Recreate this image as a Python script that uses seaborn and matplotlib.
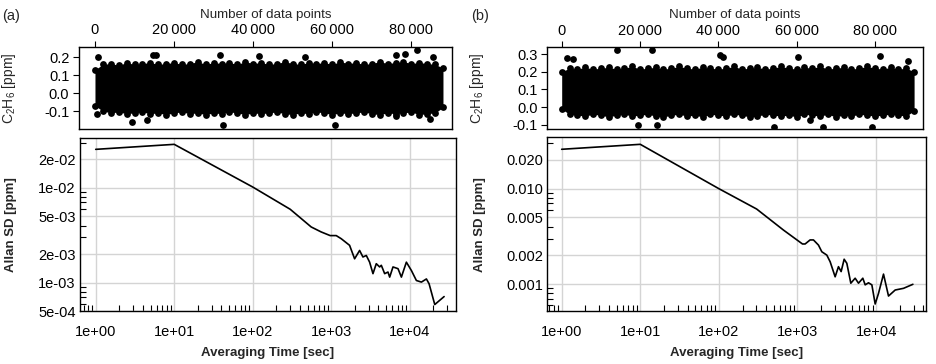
import numpy as np
import pandas as pd
import matplotlib
matplotlib.use('Agg')
import matplotlib.pyplot as plt
import matplotlib.ticker as mticker
import seaborn as sns

# ---- time series (top panels): dense band edges, plus stray points
env_x_a = list(range(0, 90000, 2000))
upper_a = [0.13, 0.16, 0.165, 0.155, 0.17, 0.16, 0.165, 0.17, 0.16, 0.165, 0.17, 0.16,
           0.165, 0.175, 0.16, 0.17, 0.165, 0.17, 0.16, 0.175, 0.165, 0.17, 0.16, 0.165,
           0.175, 0.165, 0.16, 0.17, 0.165, 0.17, 0.16, 0.175, 0.165, 0.17, 0.16, 0.165,
           0.175, 0.165, 0.17, 0.175, 0.165, 0.17, 0.165, 0.16, 0.14]
lower_a = [-0.07, -0.1, -0.11, -0.105, -0.115, -0.11, -0.105, -0.115, -0.11, -0.12, -0.11,
           -0.105, -0.115, -0.11, -0.12, -0.11, -0.115, -0.105, -0.11, -0.12, -0.11, -0.115,
           -0.11, -0.105, -0.115, -0.12, -0.11, -0.115, -0.105, -0.11, -0.12, -0.11, -0.115,
           -0.11, -0.105, -0.115, -0.12, -0.11, -0.115, -0.11, -0.105, -0.12, -0.115, -0.11, -0.08]
out_x_a = [840, 14570, 15400, 31580, 41430, 53000, 76200, 78300, 81500, 85500,
           420, 9260, 13050, 32400, 60630, 76200, 84630]
out_y_a = [0.2, 0.21, 0.215, 0.215, 0.205, 0.2, 0.21, 0.22, 0.24, 0.2,
           -0.116, -0.163, -0.148, -0.18, -0.18, -0.126, -0.145]

env_x_b = list(range(0, 92000, 2000))
upper_b = [0.2, 0.22, 0.215, 0.225, 0.215, 0.22, 0.225, 0.215, 0.22, 0.23, 0.215, 0.22,
           0.225, 0.215, 0.22, 0.23, 0.22, 0.215, 0.225, 0.22, 0.215, 0.22, 0.23, 0.215,
           0.22, 0.225, 0.215, 0.22, 0.23, 0.22, 0.215, 0.225, 0.22, 0.23, 0.215, 0.22,
           0.225, 0.215, 0.22, 0.23, 0.22, 0.215, 0.225, 0.215, 0.22, 0.2]
lower_b = [-0.01, -0.04, -0.045, -0.05, -0.04, -0.045, -0.055, -0.045, -0.04, -0.05, -0.045,
           -0.04, -0.05, -0.055, -0.045, -0.04, -0.05, -0.045, -0.055, -0.04, -0.045, -0.05,
           -0.04, -0.045, -0.055, -0.05, -0.04, -0.045, -0.05, -0.045, -0.055, -0.04, -0.045,
           -0.05, -0.04, -0.055, -0.045, -0.05, -0.04, -0.045, -0.05, -0.045, -0.04, -0.045,
           -0.05, -0.02]
out_x_b = [1280, 2980, 14040, 22980, 40430, 41280, 60430, 81280, 88510,
           19570, 24260, 54210, 63400, 66810, 79150]
out_y_b = [0.276, 0.27, 0.32, 0.32, 0.295, 0.285, 0.286, 0.29, 0.26,
           -0.1, -0.1, -0.11, -0.075, -0.11, -0.11]

# ---- Allan deviation (bottom panels)
tau_a = [1, 10, 100, 300, 556, 745, 970, 1158, 1342, 1714, 1986, 2300, 2535, 2799, 3085,
         3404, 3750, 4140, 4347, 4796, 5285, 5556, 6124, 7096, 7834, 9066, 10500, 12160,
         14090, 16320, 17650, 20850, 27420]
adev_a = [0.0255, 0.0288, 0.0102, 0.00594, 0.00386, 0.00342, 0.00313, 0.00313, 0.0029,
          0.00247, 0.00178, 0.00218, 0.00186, 0.00193, 0.00164, 0.00124, 0.00158, 0.00146,
          0.00152, 0.00124, 0.00129, 0.00114, 0.00146, 0.0014, 0.00114, 0.00164, 0.00134,
          0.00105, 0.00101, 0.00109, 0.00097, 0.000585, 0.00071]
tau_b = [1, 10, 100, 302, 663, 1157, 1250, 1446, 1596, 1848, 2038, 2360, 2603, 3012, 3320,
         3590, 3922, 4240, 4767, 5413, 5970, 6776, 7260, 8000, 8830, 9730, 10730, 12420,
         14380, 17490, 22330, 29360]
adev_b = [0.0259, 0.0292, 0.0100, 0.00612, 0.00368, 0.00263, 0.00263, 0.0029, 0.0029,
          0.00256, 0.00218, 0.00201, 0.00171, 0.00119, 0.00152, 0.00135, 0.00182, 0.00165,
          0.00102, 0.00115, 0.00102, 0.00115, 0.00098, 0.00103, 0.00098, 0.000617, 0.000798,
          0.00127, 0.000748, 0.000865, 0.000901, 0.000993]

yticks_top_a = [-0.1, 0.0, 0.1, 0.2]
yticks_top_b = [-0.1, 0.0, 0.1, 0.2, 0.3]
yticks_bot_a = [5e-4, 1e-3, 2e-3, 5e-3, 1e-2, 2e-2]
yticks_bot_b = [1e-3, 2e-3, 5e-3, 1e-2, 2e-2]
xticks_top = [0, 20000, 40000, 60000, 80000]
xticks_bot = [1, 10, 100, 1000, 10000]

sns.set_style('ticks')
plt.rcParams['font.family'] = ['Liberation Sans', 'DejaVu Sans']
plt.rcParams['axes.unicode_minus'] = False
plt.rcParams['mathtext.default'] = 'regular'

fig = plt.figure(figsize=(9.36, 3.64), dpi=100)


def draw_series(ax, env_x, upper, lower, out_x, out_y, xlim, ylim, yticks, lab_x):
    ax.fill_between(env_x, lower, upper, color='black', lw=0)
    pts = pd.DataFrame({'n': env_x + env_x + out_x, 'c': upper + lower + out_y})
    sns.scatterplot(data=pts, x='n', y='c', ax=ax, color='black', s=24, linewidth=0)
    ax.set_xlim(*xlim)
    ax.set_ylim(*ylim)
    ax.xaxis.tick_top()
    ax.xaxis.set_label_position('top')
    ax.set_xticks(xticks_top)
    ax.xaxis.set_major_formatter(mticker.FuncFormatter(
        lambda v, p: f"{int(v):,}".replace(',', '\u2009')))
    ax.set_yticks(yticks)
    ax.yaxis.set_major_formatter(mticker.FuncFormatter(lambda v, p: f"{v:.1f}"))
    ax.set_xlabel('Number of data points', fontsize=9.6, labelpad=4)
    ax.set_ylabel('C$_2$H$_6$ [ppm]', fontsize=10)
    ax.yaxis.set_label_coords(lab_x, 0.5)
    ax.tick_params(direction='out', length=4, width=0.8, labelsize=10.5, pad=3, colors='black')
    for s in ax.spines.values():
        s.set_color('black')
        s.set_linewidth(1)


def draw_adev(ax, tau, adev, xlim, ylim, yticks, fmt, lab_x):
    sns.lineplot(x=tau, y=adev, ax=ax, color='black', lw=1.2, sort=False, estimator=None)
    ax.set_xscale('log')
    ax.set_yscale('log')
    ax.set_xlim(*xlim)
    ax.set_ylim(*ylim)
    ax.xaxis.set_major_locator(mticker.FixedLocator(xticks_bot))
    ax.xaxis.set_major_formatter(mticker.FuncFormatter(lambda v, p: f"{v:.0e}"))
    ax.xaxis.set_minor_locator(mticker.LogLocator(base=10, subs=np.arange(2, 10)))
    ax.xaxis.set_minor_formatter(mticker.NullFormatter())
    ax.yaxis.set_major_locator(mticker.FixedLocator(yticks))
    ax.yaxis.set_major_formatter(mticker.FuncFormatter(fmt))
    ax.yaxis.set_minor_locator(mticker.LogLocator(base=10, subs=np.arange(2, 10)))
    ax.yaxis.set_minor_formatter(mticker.NullFormatter())
    ax.grid(True, which='major', color='#d4d4d4', lw=1)
    ax.set_axisbelow(True)
    ax.tick_params(which='both', direction='in', colors='black', labelsize=10.5)
    ax.tick_params(which='major', length=0, width=0.8)
    ax.tick_params(which='minor', length=4, width=0.8)
    ax.tick_params(axis='x', which='major', pad=10)
    ax.tick_params(axis='y', which='major', pad=3)
    ax.set_xlabel('Averaging Time [sec]', fontsize=9.5, fontweight='bold', labelpad=6)
    ax.set_ylabel('Allan SD [ppm]', fontsize=9.5, fontweight='bold')
    ax.yaxis.set_label_coords(lab_x, 0.5)
    for s in ax.spines.values():
        s.set_color('black')
        s.set_linewidth(1)


ax1 = fig.add_axes([0.0844, 0.6456, 0.399, 0.2253])
ax2 = fig.add_axes([0.0855, 0.1456, 0.4017, 0.4766])
ax3 = fig.add_axes([0.5847, 0.6456, 0.4011, 0.2245])
ax4 = fig.add_axes([0.5847, 0.1456, 0.4046, 0.4772])

draw_series(ax1, env_x_a, upper_a, lower_a, out_x_a, out_y_a,
            (-4040, 90400), (-0.2, 0.257), yticks_top_a, -0.163)
draw_series(ax3, env_x_b, upper_b, lower_b, out_x_b, out_y_b,
            (-3680, 92200), (-0.123, 0.338), yticks_top_b, -0.163)
draw_adev(ax2, tau_a, adev_a, (0.631, 38900), (5e-4, 0.034), yticks_bot_a,
          lambda v, p: f"{v:.0e}", -0.168)
draw_adev(ax4, tau_b, adev_b, (0.656, 43100), (0.000521, 0.0346), yticks_bot_b,
          lambda v, p: f"{v:.3f}", -0.162)

fig.text(0.002, 0.975, '(a)', fontsize=10.5, va='top', ha='left')
fig.text(0.503, 0.975, '(b)', fontsize=10.5, va='top', ha='left')

fig.savefig('out.png', dpi=100)
